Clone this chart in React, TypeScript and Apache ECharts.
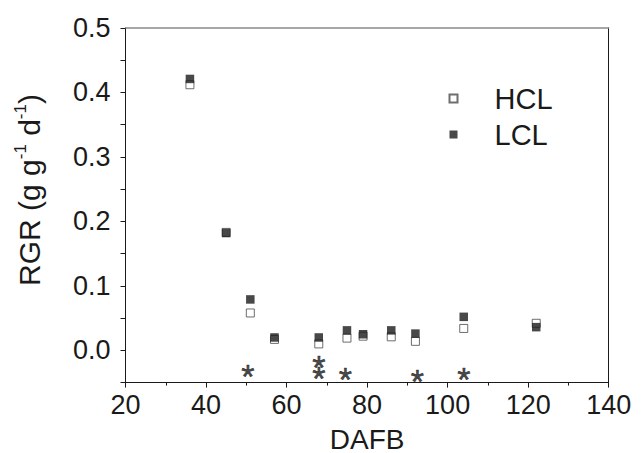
import React, { useEffect, useRef } from "react";
import * as echarts from "echarts";

const days = [36, 45, 51, 57, 68, 75, 79, 86, 92, 104, 122];
const hcl = [0.412, 0.183, 0.058, 0.017, 0.010, 0.019, 0.022, 0.021, 0.014, 0.034, 0.042];
const lcl = [0.421, 0.182, 0.079, 0.020, 0.020, 0.031, 0.025, 0.031, 0.026, 0.052, 0.036];
const starDays = [50.4, 68, 68, 74.6, 92.5, 104];
const starValues = [-0.028, -0.013, -0.031, -0.032, -0.035, -0.032];
const xTicks = [20, 40, 60, 80, 100, 120, 140];
const yTicks = [0.0, 0.1, 0.2, 0.3, 0.4, 0.5];

const FONT = "Liberation Sans, Arial, sans-serif";
const INK = "#1a1a1a";

export default function App() {
  const ref = useRef<HTMLDivElement>(null);
  useEffect(() => {
    if (!ref.current) return;
    const chart = echarts.init(ref.current, undefined, { renderer: "svg" });
    const option = {
      animation: false,
      backgroundColor: "#ffffff",
      grid: { left: 125.5, right: 34.3, top: 28, bottom: 70.4, containLabel: false, outerBoundsMode: "none" },
      legend: {
        orient: "vertical",
        left: 448.5,
        top: 83,
        padding: 0,
        itemWidth: 8,
        itemHeight: 8,
        itemGap: 5,
        icon: "rect",
        data: ["HCL", "LCL"],
        textStyle: { fontFamily: FONT, fontSize: 29, color: INK, padding: [0, 0, 0, 32], lineHeight: 31 },
      },
      xAxis: [
        {
          type: "value",
          min: xTicks[0],
          max: xTicks[xTicks.length - 1],
          interval: 20,
          name: "DAFB",
          nameLocation: "middle",
          nameGap: 43,
          nameTextStyle: { fontFamily: FONT, fontSize: 28, color: INK },
          axisLine: { show: true, onZero: false, lineStyle: { color: INK, width: 1 } },
          axisTick: { show: true, inside: false, length: 5, lineStyle: { color: INK } },
          minorTick: { show: true, splitNumber: 2, length: 3, lineStyle: { color: INK } },
          splitLine: { show: false },
          axisLabel: { fontFamily: FONT, fontSize: 27, color: INK, margin: 9 },
        },
        {
          type: "value",
          position: "top",
          min: xTicks[0],
          max: xTicks[xTicks.length - 1],
          axisLine: { show: true, onZero: false, lineStyle: { color: "#8a8a8a", width: 1.5 } },
          axisTick: { show: false },
          axisLabel: { show: false },
          splitLine: { show: false },
        },
      ],
      yAxis: [
        {
          type: "value",
          min: -0.05,
          max: 0.5,
          interval: 0.05,
          axisLine: { show: true, onZero: false, lineStyle: { color: INK, width: 1 } },
          axisTick: { show: true, inside: false, length: 5, lineStyle: { color: INK } },
          splitLine: { show: false },
          axisLabel: {
            fontFamily: FONT,
            fontSize: 27,
            color: INK,
            margin: 15,
            formatter: (v: number) => {
              const hit = yTicks.find((t) => Math.abs(t - v) < 1e-9);
              return hit === undefined ? "" : hit.toFixed(1);
            },
          },
        },
        {
          type: "value",
          position: "right",
          min: -0.05,
          max: 0.5,
          axisLine: { show: true, onZero: false, lineStyle: { color: INK, width: 1 } },
          axisTick: { show: false },
          axisLabel: { show: false },
          splitLine: { show: false },
        },
      ],
      series: [
        {
          name: "HCL",
          type: "scatter",
          symbol: "rect",
          symbolSize: 8,
          itemStyle: { color: "#ffffff", borderColor: "#4a4a4a", borderWidth: 1 },
          data: days.map((d, i) => [d, hcl[i]]),
          z: 2,
        },
        {
          name: "LCL",
          type: "scatter",
          symbol: "rect",
          symbolSize: 8.5,
          itemStyle: { color: "#1a1a1a" },
          data: days.map((d, i) => [d, lcl[i]]),
          z: 3,
        },
        {
          name: "sig",
          type: "scatter",
          symbolSize: 0,
          silent: true,
          data: starDays.map((d, i) => [d, starValues[i]]),
          label: {
            show: true,
            position: "inside",
            formatter: "*",
            fontFamily: FONT,
            fontSize: 34,
            color: INK,
            textBorderColor: INK,
            textBorderWidth: 0.6,
            offset: [0, 8],
          },
          z: 4,
        },
      ],
      graphic: [
        {
          type: "text",
          x: 29,
          y: 190,
          rotation: Math.PI / 2,
          style: {
            text: "{m|RGR (g g}{s|-1}{m| d}{s|-1}{m|)}",
            align: "center",
            verticalAlign: "middle",
            fill: INK,
            rich: {
              m: { fontFamily: FONT, fontSize: 30, fill: INK, color: INK, lineHeight: 34 },
              s: { fontFamily: FONT, fontSize: 17, fill: INK, color: INK, verticalAlign: "top", lineHeight: 34 },
            },
          },
        },
      ],
    };
    chart.setOption(option as any);
    return () => chart.dispose();
  }, []);
  return <div ref={ref} style={{ position: "absolute", left: 0, top: 0, width: 643, height: 453 }} />;
}
